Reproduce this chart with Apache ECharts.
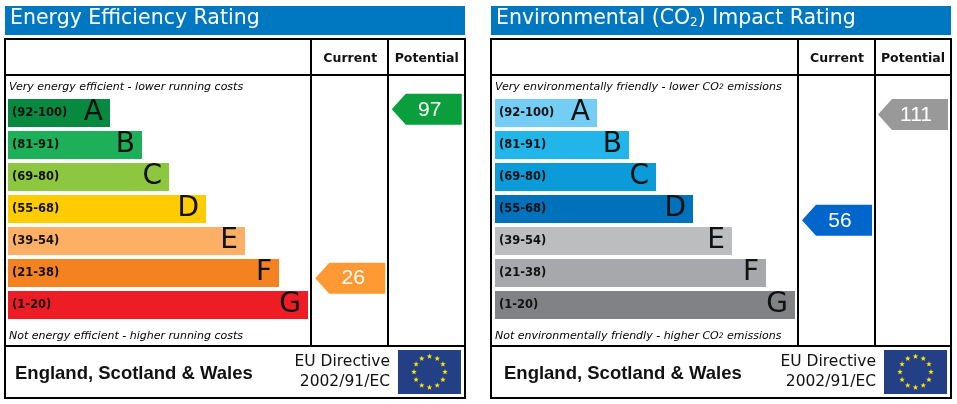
<!DOCTYPE html>
<html><head><meta charset="utf-8">
<style>html,body{margin:0;padding:0;background:#fff}#c{width:957px;height:404px}</style>
<script src="https://cdn.jsdelivr.net/npm/echarts@6/dist/echarts.min.js"></script>
</head><body><div id="c"></div>
<script>
const bands = ['(92-100)','(81-91)','(69-80)','(55-68)','(39-54)','(21-38)','(1-20)'];
const letters = ['A','B','C','D','E','F','G'];
const columns = ['Current','Potential'];
const energyLengths = [102,134,161,198,237,271,300];
const envLengths = [102,134,161,198,237,271,300];
const energyColors = ['#07893f','#1db058','#8dc63f','#ffcc00','#fcaf65','#f58220','#ee1c25'];
const envColors = ['#73cdf4','#21b5ea','#0a9bd8','#0072bc','#bbbdbf','#a6a8ab','#808285'];
const energyCurrent = 26, energyPotential = 97;
const envCurrent = 56, envPotential = 111;

const sans = 'DejaVu Sans', arial = 'Liberation Sans';
const panels = [
 {title:'Energy Efficiency Rating', x:5, v1:311, v2:388, barX:8, lengths:energyLengths, colors:energyColors,
  cur:energyCurrent, pot:energyPotential, curCol:'#ff9933', potCol:'#0a9e3c', axisMax:111, axisBottom:340,
  top:'Very energy efficient - lower running costs', bottom:'Not energy efficient - higher running costs'},
 {title:'Environmental (CO{s|2}) Impact Rating', x:491, v1:798, v2:875, barX:495, lengths:envLengths, colors:envColors,
  cur:envCurrent, pot:envPotential, curCol:'#0066cc', potCol:'#999999', axisMax:131, axisBottom:328,
  top:'Very environmentally friendly - lower CO{s|2} emissions', bottom:'Not environmentally friendly - higher CO{s|2} emissions'}
];

const title=[], grid=[], xAxis=[], yAxis=[], series=[], graphic=[];
const line=(x1,y1,x2,y2)=>({type:'line',shape:{x1,y1,x2,y2},style:{stroke:'#000',lineWidth:2},z:10});
function arrowRender(color){
  return function(params,api){
    const c=api.coord([api.value(0),api.value(1)]);
    const l=c[0]-35,r=c[0]+35,t=c[1]-15.5,b=c[1]+15.5;
    return {type:'group',children:[
      {type:'polygon',shape:{points:[[l,c[1]],[l+14,t],[r,t],[r,b],[l+14,b]]},style:{fill:color}},
      {type:'text',style:{x:c[0]+3,y:c[1]+0.5,text:String(api.value(1)),fill:'#fff',font:'21px "'+arial+'"',align:'center',verticalAlign:'middle'}}
    ]};
  };
}
panels.forEach((p,i)=>{
  const X=p.x, R=X+460;
  title.push({text:p.title,left:X+5,top:8,padding:0,textStyle:{color:'#fff',fontFamily:sans,fontWeight:'normal',fontSize:20.5,
    rich:{s:{fontSize:12,color:'#fff',fontFamily:sans,verticalAlign:'bottom',padding:[6,0,0,0]}}}});
  graphic.push({type:'rect',shape:{x:X,y:6,width:460,height:29},style:{fill:'#0078c1'},z:0});
  graphic.push({type:'rect',shape:{x:X,y:39,width:460,height:359},style:{fill:'none',stroke:'#000',lineWidth:2},z:10});
  graphic.push(line(X,75,R,75),line(X,346,R,346),line(p.v1,39,p.v1,346),line(p.v2,39,p.v2,346));
  const rich={s:{fontSize:7.5,fontStyle:'italic',fontFamily:sans,fill:'#000',color:'#000'}};
  graphic.push({type:'text',style:{x:X+4,y:87,text:p.top,fill:'#000',font:'italic 11px "'+sans+'"',verticalAlign:'middle',rich},z:11});
  graphic.push({type:'text',style:{x:X+4,y:336,text:p.bottom,fill:'#000',font:'italic 11px "'+sans+'"',verticalAlign:'middle',rich},z:11});
  graphic.push({type:'text',style:{x:X+(i?13:10),y:373.5,text:'England, Scotland & Wales',fill:'#111',font:'bold 18.5px "'+arial+'"',verticalAlign:'middle'},z:11});
  graphic.push({type:'text',style:{x:X+385,y:362,text:'EU Directive',fill:'#111',font:'15.5px "'+sans+'"',align:'right',verticalAlign:'middle'},z:11});
  graphic.push({type:'text',style:{x:X+385,y:382,text:'2002/91/EC',fill:'#111',font:'15.5px "'+sans+'"',align:'right',verticalAlign:'middle'},z:11});
  const fx=X+393, fy=350, fw=63, fh=44;
  graphic.push({type:'rect',shape:{x:fx,y:fy,width:fw,height:fh},style:{fill:'#233f85'},z:11});
  for(let s=0;s<12;s++){
    const a=s*Math.PI/6, cx=fx+fw/2+15.5*Math.sin(a), cy=fy+fh/2-15.5*Math.cos(a), pts=[];
    for(let k=0;k<10;k++){const r=k%2?1.2:2.9,t=k*Math.PI/5;pts.push([cx+r*Math.sin(t),cy-r*Math.cos(t)]);}
    graphic.push({type:'polygon',shape:{points:pts},style:{fill:'#ffe600'},z:12});
  }
  const g=grid.length;
  // bars grid
  grid.push({left:p.barX,top:97,width:300,height:224});
  xAxis.push({type:'value',gridIndex:g,min:0,max:300,show:false});
  yAxis.push({type:'category',gridIndex:g,data:bands,inverse:true,z:6,axisLine:{show:false},axisTick:{show:false},
    axisLabel:{inside:true,margin:4,color:'#111',fontFamily:sans,fontWeight:'bold',fontSize:11.5,align:'left'}});
  series.push({type:'bar',xAxisIndex:g,yAxisIndex:g,barWidth:28,silent:true,animation:false,
    data:p.lengths.map((v,k)=>({value:v,itemStyle:{color:p.colors[k]},
      label:{show:true,position:'insideRight',distance:7,formatter:letters[k],color:'#111',fontFamily:sans,fontSize:28}}))});
  // arrow column grid
  grid.push({left:p.v1+1,top:76,width:p.x+461-p.v1-2,bottom:404-p.axisBottom});
  xAxis.push({type:'category',gridIndex:g+1,data:columns,position:'top',axisLine:{show:false},axisTick:{show:false},
    axisLabel:{margin:11,interval:0,color:'#111',fontFamily:sans,fontWeight:'bold',fontSize:12.5}});
  yAxis.push({type:'value',gridIndex:g+1,min:0,max:p.axisMax,show:false});
  [[columns[0],p.cur,p.curCol],[columns[1],p.pot,p.potCol]].forEach(d=>{
    series.push({type:'custom',xAxisIndex:g+1,yAxisIndex:g+1,silent:true,animation:false,clip:false,
      renderItem:arrowRender(d[2]),encode:{x:0,y:1},data:[[d[0],d[1]]]});
  });
});
const chart=echarts.init(document.getElementById('c'),null,{renderer:'canvas'});
chart.setOption({animation:false,backgroundColor:'#fff',tooltip:{show:false},title,grid,xAxis,yAxis,series,graphic});
</script></body></html>
